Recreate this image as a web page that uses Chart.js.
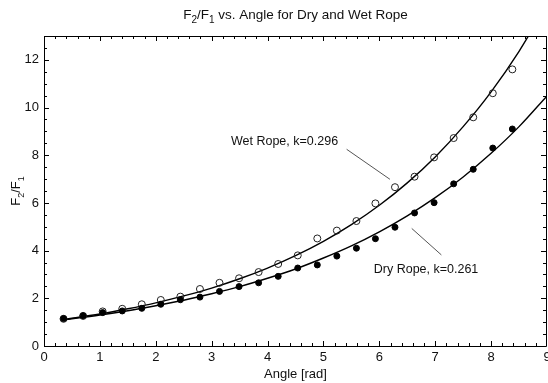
<!DOCTYPE html>
<html>
<head>
<meta charset="utf-8">
<script src="https://cdn.jsdelivr.net/npm/chart.js@4/dist/chart.umd.min.js"></script>
<style>
html,body{margin:0;padding:0;background:#fff;}
canvas{display:block;}
</style>
</head>
<body>
<canvas id="c" width="548" height="383"></canvas>
<script>
// ---- data ----
const angles = [0.35, 0.70, 1.05, 1.40, 1.75, 2.09, 2.44, 2.79, 3.14, 3.49, 3.84, 4.19,
                4.54, 4.89, 5.24, 5.59, 5.93, 6.28, 6.63, 6.98, 7.33, 7.68, 8.03, 8.38];
const wetRatio = [1.14, 1.26, 1.45, 1.56, 1.75, 1.93, 2.07, 2.39, 2.65, 2.84, 3.10, 3.44,
                  3.80, 4.51, 4.84, 5.24, 5.98, 6.66, 7.10, 7.91, 8.72, 9.59, 10.6, 11.6];
const dryRatio = [1.15, 1.27, 1.40, 1.47, 1.58, 1.75, 1.94, 2.05, 2.29, 2.49, 2.65, 2.92,
                  3.27, 3.40, 3.77, 4.10, 4.50, 4.98, 5.58, 6.01, 6.80, 7.41, 8.30, 9.10];
// fitted curves
const fitAngles = [0.35, 1.0, 1.5, 2.0, 2.5, 3.0, 3.5, 4.0, 4.5, 5.0, 5.5, 6.0, 6.5, 7.0, 7.5, 8.0, 8.5, 9.0];
const wetFit = [1.11, 1.34, 1.56, 1.81, 2.10, 2.43, 2.82, 3.27, 3.79, 4.39, 5.09, 5.90, 6.84, 7.93, 9.20, 10.66, 12.36, 14.33];
const dryFit = [1.10, 1.30, 1.48, 1.69, 1.92, 2.19, 2.49, 2.84, 3.23, 3.69, 4.20, 4.79, 5.46, 6.22, 7.09, 8.08, 9.20, 10.49];
const xTicks = [0, 1, 2, 3, 4, 5, 6, 7, 8, 9];
const yTicks = [0, 2, 4, 6, 8, 10, 12];
const wetLabel = 'Wet Rope, k=0.296';
const dryLabel = 'Dry Rope, k=0.261';

// ---- presentation ----
const FONT = '"Liberation Sans", Arial, Helvetica, sans-serif';
const TXT = '#111';
const annotations = [
  { text: wetLabel, tx: 3.345, ty: 8.57, x1: 5.415, y1: 8.25, x2: 6.19, y2: 6.99 },
  { text: dryLabel, tx: 5.90, ty: 3.19, x1: 6.58, y1: 4.93, x2: 7.11, y2: 3.82 }
];

function pts(xs, ys) { return xs.map((x, i) => ({ x: x, y: ys[i] })); }

function drawSubText(ctx, parts, size) {
  let w = 0;
  parts.forEach(p => {
    ctx.font = (p[1] ? Math.round(size * 0.72) : size) + 'px ' + FONT;
    w += ctx.measureText(p[0]).width;
  });
  return w;
}
function renderSubText(ctx, parts, size, x, y) {
  parts.forEach(p => {
    ctx.font = (p[1] ? Math.round(size * 0.72) : size) + 'px ' + FONT;
    ctx.fillText(p[0], x, y + (p[1] ? size * 0.3 : 0));
    x += ctx.measureText(p[0]).width;
  });
}

const framePlugin = {
  id: 'frame',
  afterDatasetsDraw(chart) {
    const ctx = chart.ctx, a = chart.chartArea;
    const xs = chart.scales.x, ys = chart.scales.y;
    ctx.save();
    ctx.strokeStyle = '#000';
    ctx.lineWidth = 1;
    ctx.beginPath();
    ctx.rect(Math.round(a.left) + 0.5, Math.round(a.top) + 0.5, Math.round(a.right - a.left) - 1, Math.round(a.bottom - a.top));
    ctx.stroke();
    ctx.beginPath();
    for (let i = 0; i <= 45; i++) {
      const v = i * 0.2;
      const px = Math.min(Math.round(xs.getPixelForValue(v)), Math.round(a.right) - 1) + 0.5;
      const len = (i % 5 === 0) ? 5 : 3;
      ctx.moveTo(px, a.bottom); ctx.lineTo(px, a.bottom - len);
      ctx.moveTo(px, a.top); ctx.lineTo(px, a.top + len);
    }
    for (let i = 0; i <= 26; i++) {
      const v = i * 0.5;
      const py = Math.round(ys.getPixelForValue(v)) + 0.5;
      const len = (i % 4 === 0) ? 5 : 3;
      ctx.moveTo(a.left, py); ctx.lineTo(a.left + len, py);
      ctx.moveTo(a.right - 1, py); ctx.lineTo(a.right - 1 - len, py);
    }
    ctx.stroke();

    ctx.strokeStyle = '#555';
    ctx.lineWidth = 1;
    ctx.fillStyle = TXT;
    ctx.textBaseline = 'middle';
    ctx.textAlign = 'left';
    ctx.font = '12.5px ' + FONT;
    annotations.forEach(an => {
      ctx.beginPath();
      ctx.moveTo(xs.getPixelForValue(an.x1), ys.getPixelForValue(an.y1));
      ctx.lineTo(xs.getPixelForValue(an.x2), ys.getPixelForValue(an.y2));
      ctx.stroke();
      ctx.fillText(an.text, xs.getPixelForValue(an.tx), ys.getPixelForValue(an.ty));
    });

    const cx = (a.left + a.right) / 2;
    const tparts = [['F', false], ['2', true], ['/F', false], ['1', true], [' vs. Angle for Dry and Wet Rope', false]];
    const tw = drawSubText(ctx, tparts, 13.5);
    ctx.textBaseline = 'alphabetic';
    renderSubText(ctx, tparts, 13.5, cx - tw / 2, 19);

    ctx.font = '13px ' + FONT;
    ctx.textAlign = 'center';
    ctx.fillText('Angle [rad]', cx, 378);

    const yparts = [['F', false], ['2', true], ['/F', false], ['1', true]];
    const yw = drawSubText(ctx, yparts, 13);
    ctx.translate(20, (a.top + a.bottom) / 2);
    ctx.rotate(-Math.PI / 2);
    ctx.textAlign = 'left';
    renderSubText(ctx, yparts, 13, -yw / 2, 0);
    ctx.restore();
  }
};

new Chart(document.getElementById('c'), {
  type: 'scatter',
  data: {
    datasets: [
      {
        label: 'Dry Rope',
        data: pts(angles, dryRatio),
        pointRadius: 3,
        pointBackgroundColor: '#000',
        pointBorderColor: '#000',
        pointBorderWidth: 1,
        showLine: false
      },
      {
        label: 'Wet Rope',
        data: pts(angles, wetRatio),
        pointRadius: 3.5,
        pointBackgroundColor: 'rgba(0,0,0,0)',
        pointBorderColor: '#222',
        pointBorderWidth: 1,
        showLine: false
      },
      {
        label: 'Wet fit',
        data: pts(fitAngles, wetFit),
        showLine: true,
        pointRadius: 0,
        borderColor: '#000',
        borderWidth: 1.4,
        cubicInterpolationMode: 'monotone',
        fill: false
      },
      {
        label: 'Dry fit',
        data: pts(fitAngles, dryFit),
        showLine: true,
        pointRadius: 0,
        borderColor: '#000',
        borderWidth: 1.4,
        cubicInterpolationMode: 'monotone',
        fill: false
      }
    ]
  },
  options: {
    responsive: false,
    animation: false,
    devicePixelRatio: 1,
    layout: { autoPadding: false, padding: { top: 36, right: 1, left: 0, bottom: 0 } },
    plugins: { legend: { display: false }, title: { display: false }, tooltip: { enabled: false } },
    scales: {
      x: {
        type: 'linear', min: 0, max: 9,
        afterBuildTicks: s => { s.ticks = xTicks.map(v => ({ value: v })); },
        ticks: { font: { size: 13, family: FONT }, color: TXT, padding: 4, maxRotation: 0, autoSkip: false, includeBounds: false },
        grid: { drawOnChartArea: false, drawTicks: false },
        border: { display: false },
        afterFit: s => { s.height = 37; s.paddingLeft = 0; s.paddingRight = 0; }
      },
      y: {
        type: 'linear', min: 0, max: 13,
        afterBuildTicks: s => { s.ticks = yTicks.map(v => ({ value: v })); },
        ticks: { font: { size: 13, family: FONT }, color: TXT, padding: 5, autoSkip: false, includeBounds: false },
        grid: { drawOnChartArea: false, drawTicks: false },
        border: { display: false },
        afterFit: s => { s.width = 44; s.paddingTop = 0; s.paddingBottom = 0; }
      }
    }
  },
  plugins: [framePlugin]
});
</script>
</body>
</html>
